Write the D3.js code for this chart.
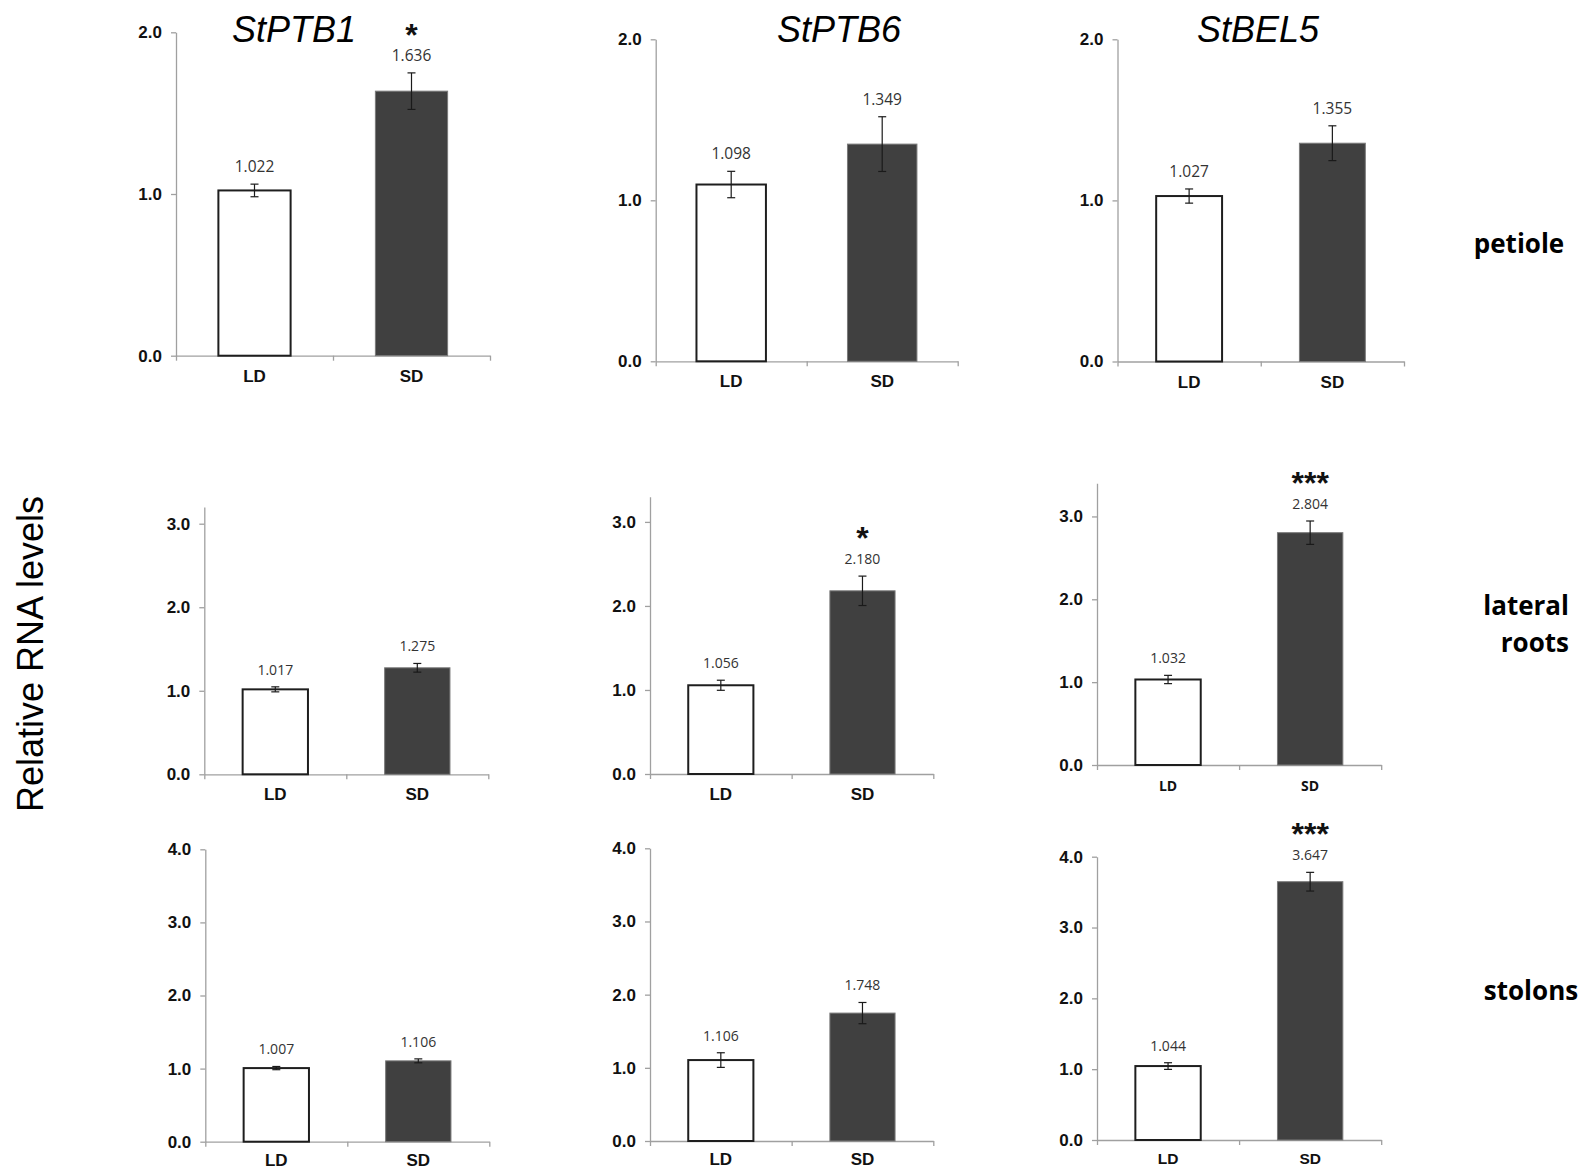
<!DOCTYPE html>
<html><head><meta charset="utf-8">
<script src="https://cdn.jsdelivr.net/npm/d3@7"></script>
<style>body{margin:0;background:#fff}svg{display:block}</style>
</head><body>
<script>
// ---------- data ----------
const genes = ["StPTB1", "StPTB6", "StBEL5"];
const tissues = ["petiole", "lateral roots", "stolons"];
const conditions = ["LD", "SD"];
const ldValues = [[1.022, 1.098, 1.027], [1.017, 1.056, 1.032], [1.007, 1.106, 1.044]];
const sdValues = [[1.636, 1.349, 1.355], [1.275, 2.180, 2.804], [1.106, 1.748, 3.647]];
const ldErrors = [[0.039, 0.082, 0.044], [0.030, 0.060, 0.050], [0.022, 0.100, 0.047]];
const sdErrors = [[0.113, 0.170, 0.108], [0.052, 0.175, 0.141], [0.027, 0.145, 0.132]];
const significance = [["*", "", ""], ["", "*", "***"], ["", "", "***"]];
const yMax = [[2, 2, 2], [3.2, 3.3, 3.4], [4, 4, 4]];
const yTicks = [[0, 1, 2], [0, 1, 2, 3], [0, 1, 2, 3, 4]];   // per row
const yAxisTitle = "Relative RNA levels";

// ---------- layout ----------
const W = 1589, H = 1170;
const panelBoxes = [
  [{l:176, r:490, b:355.7, t:32.3}, {l:655.7, r:957.7, b:361.3, t:39.3}, {l:1117.5, r:1404, b:361.5, t:39.3}],
  [{l:204.3, r:488.3, b:774.3, t:507}, {l:650, r:933.3, b:774, t:496.7}, {l:1097, r:1381.2, b:765, t:483.3}],
  [{l:205.3, r:489.3, b:1141.7, t:849.3}, {l:650, r:933.3, b:1141, t:848.3}, {l:1097, r:1381.2, b:1140, t:856.7}]
];
const catOffset = [26, 26, 24];
const titleX = [294, 839, 1258], titleY = 42;
const valueFont = [15.5, 14, 14];
const catFont = [
  [["Liberation Sans", 17], ["Liberation Sans", 17], ["Liberation Sans", 17]],
  [["Liberation Sans", 17], ["Liberation Sans", 17], ["Open Sans", 14]],
  [["Liberation Sans", 17], ["Liberation Sans", 17], ["Liberation Sans", 15.5]]
];

const svg = d3.select("body").append("svg").attr("width", W).attr("height", H)
  .style("font-family", "'Liberation Sans', Arial, sans-serif");

for (let r = 0; r < 3; r++) {
  for (let c = 0; c < 3; c++) {
    const box = panelBoxes[r][c];
    const y = d3.scaleLinear().domain([0, yMax[r][c]]).range([box.b, box.t]);
    const x = d3.scaleBand().domain(conditions).range([box.l, box.r])
      .paddingInner(0.54).paddingOuter(0.27);
    const xb = d3.scaleLinear().domain([0, conditions.length]).range([box.l, box.r]);
    const g = svg.append("g");

    // y axis
    const ya = g.append("g").attr("transform", `translate(${box.l},0)`)
      .call(d3.axisLeft(y).tickValues(yTicks[r]).tickFormat(d3.format(".1f"))
        .tickSize(5).tickPadding(9).tickSizeOuter(0));
    ya.attr("font-size", 17);
    ya.select(".domain").attr("stroke", "#a0a0a0").attr("stroke-width", 1.3);
    ya.selectAll(".tick line").attr("stroke", "#a0a0a0").attr("stroke-width", 1.3);
    ya.selectAll(".tick text").attr("fill", "#111").style("font-size", "17px")
      .style("font-weight", "bold").style("font-family", "'Liberation Sans', Arial, sans-serif");

    // x axis (ticks between categories)
    const xa = g.append("g").attr("transform", `translate(0,${box.b})`)
      .call(d3.axisBottom(xb).tickValues(d3.range(conditions.length + 1)).tickFormat("")
        .tickSize(5).tickSizeOuter(0));
    xa.select(".domain").attr("stroke", "#a0a0a0").attr("stroke-width", 1.3);
    xa.selectAll(".tick line").attr("stroke", "#a0a0a0").attr("stroke-width", 1.3);

    // category labels
    const [cf, cs] = catFont[r][c];
    g.selectAll("text.cat").data(conditions).join("text").attr("class", "cat")
      .attr("x", d => x(d) + x.bandwidth() / 2)
      .attr("y", box.b + catOffset[r])
      .attr("text-anchor", "middle")
      .style("font-family", `'${cf}', sans-serif`).style("font-weight", "bold")
      .style("font-size", cs + "px").attr("fill", "#111")
      .text(d => d);

    const rows = [
      {cond: "LD", v: ldValues[r][c], e: ldErrors[r][c], sig: ""},
      {cond: "SD", v: sdValues[r][c], e: sdErrors[r][c], sig: significance[r][c]}
    ];

    // bars
    g.selectAll("rect.bar").data(rows).join("rect").attr("class", "bar")
      .attr("x", d => x(d.cond)).attr("width", x.bandwidth())
      .attr("y", d => y(d.v)).attr("height", d => y(0) - y(d.v))
      .attr("fill", d => d.cond === "LD" ? "#ffffff" : "#404040")
      .attr("stroke", d => d.cond === "LD" ? "#1e1e1e" : "#7a7a7a")
      .attr("stroke-width", d => d.cond === "LD" ? 2 : 1);

    // error bars
    const cx = d => x(d.cond) + x.bandwidth() / 2;
    const eg = g.selectAll("g.err").data(rows).join("g").attr("class", "err")
      .attr("stroke", "#1a1a1a").attr("stroke-width", 1.2);
    eg.append("line").attr("x1", cx).attr("x2", cx)
      .attr("y1", d => y(d.v + d.e)).attr("y2", d => y(d.v - d.e));
    eg.append("line").attr("x1", d => cx(d) - 4).attr("x2", d => cx(d) + 4)
      .attr("y1", d => y(d.v + d.e)).attr("y2", d => y(d.v + d.e));
    eg.append("line").attr("x1", d => cx(d) - 4).attr("x2", d => cx(d) + 4)
      .attr("y1", d => y(d.v - d.e)).attr("y2", d => y(d.v - d.e));

    // value labels
    g.selectAll("text.val").data(rows).join("text").attr("class", "val")
      .attr("x", cx).attr("y", d => y(d.v + d.e) - 12)
      .attr("text-anchor", "middle")
      .style("font-family", "'Open Sans', sans-serif").style("font-size", valueFont[r] + "px")
      .attr("fill", "#333").text(d => d3.format(".3f")(d.v));

    // significance
    g.selectAll("text.sig").data(rows.filter(d => d.sig)).join("text").attr("class", "sig")
      .attr("x", cx).attr("y", d => y(d.v + d.e) - 12 - 15)
      .attr("text-anchor", "middle")
      .style("font-family", "'Liberation Sans', Arial, sans-serif").style("font-weight", "bold")
      .style("font-size", "32px").attr("fill", "#111").text(d => d.sig);
  }
}

// gene titles
svg.selectAll("text.gene").data(genes).join("text").attr("class", "gene")
  .attr("x", (d, i) => titleX[i]).attr("y", titleY)
  .attr("text-anchor", "middle").style("font-style", "italic").style("font-size", "36px")
  .attr("fill", "#000").text(d => d);

// tissue labels
const tissueStyle = s => s.style("font-family", "'Open Sans', sans-serif")
  .style("font-weight", "bold").style("font-size", "26px").attr("fill", "#000");
tissueStyle(svg.append("text").attr("x", 1519).attr("y", 253).attr("text-anchor", "middle").text(tissues[0]));
const lr = tissueStyle(svg.append("text").attr("text-anchor", "end"));
tissues[1].split(" ").forEach((w, i) => {
  lr.append("tspan").attr("x", 1569).attr("y", 615 + i * 36.7).text(w);
});
tissueStyle(svg.append("text").attr("x", 1531).attr("y", 1000).attr("text-anchor", "middle").text(tissues[2]));

// y-axis title
svg.append("text").attr("transform", "translate(43,654) rotate(-90)")
  .attr("text-anchor", "middle").style("font-size", "36px").attr("fill", "#000")
  .text(yAxisTitle);
</script>
</body></html>
